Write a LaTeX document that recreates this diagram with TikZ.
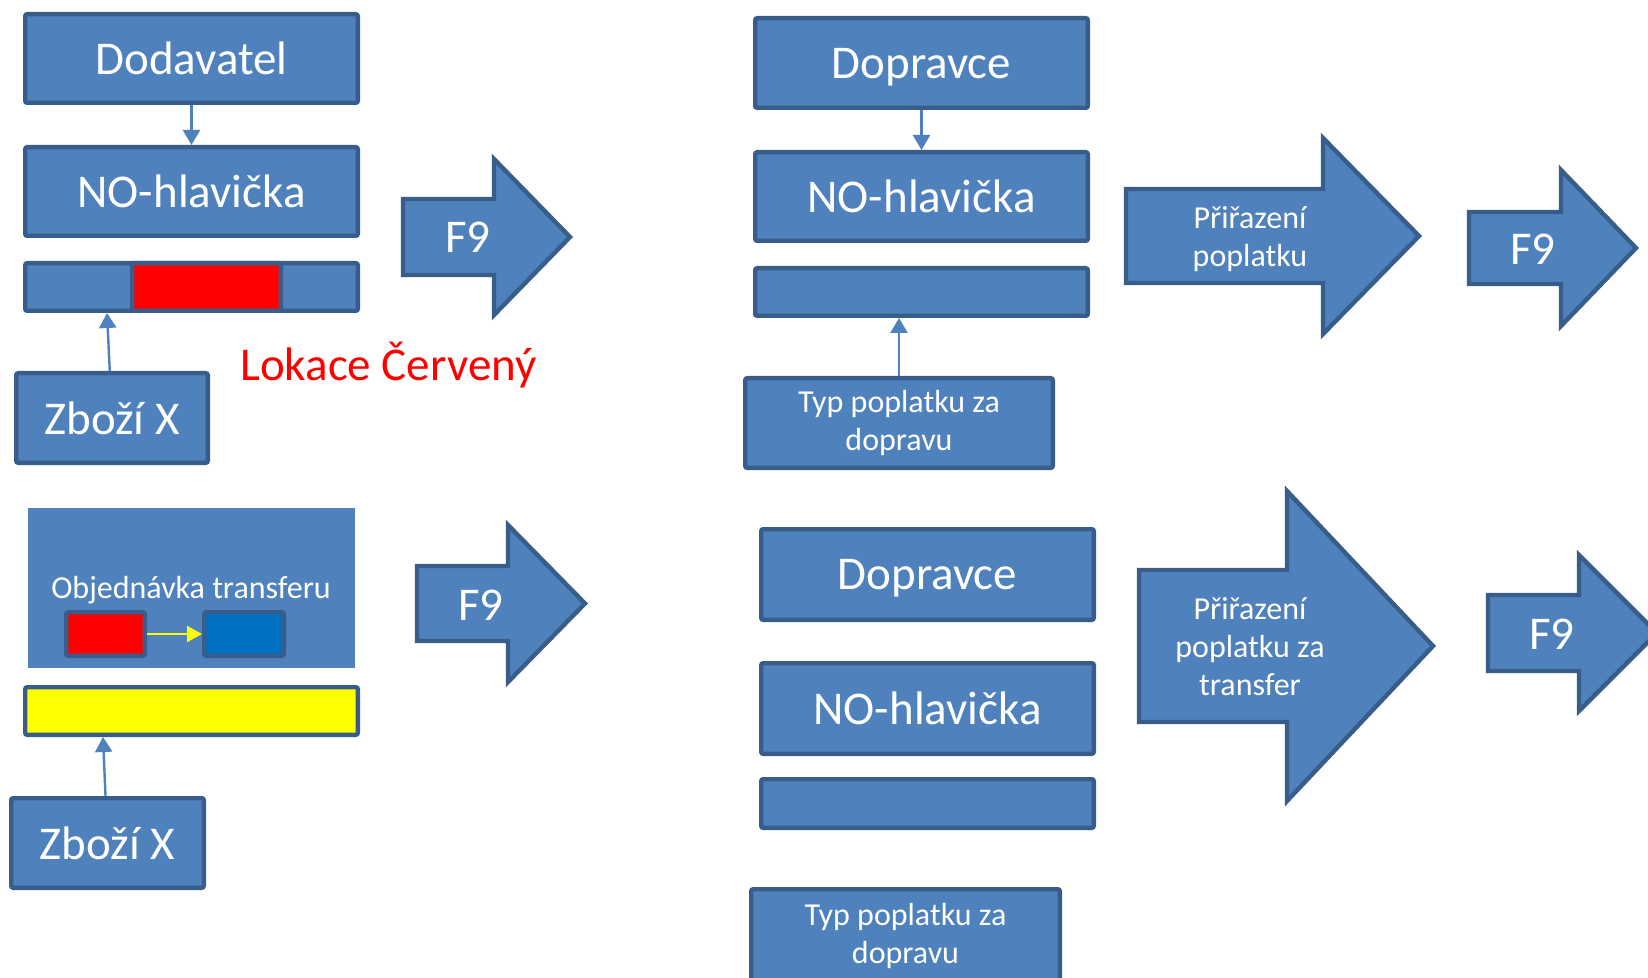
\documentclass[tikz,border=0pt]{standalone}
\usepackage{fontspec}
\setmainfont{Carlito}
\usetikzlibrary{arrows.meta}
\definecolor{boxfill}{HTML}{4F81BD}
\definecolor{boxline}{HTML}{385D8A}
\definecolor{lokred}{HTML}{FF0000}
\definecolor{darkblue}{HTML}{0070C0}
\definecolor{ylw}{HTML}{FFFF00}

\begin{document}
\begin{tikzpicture}[x=0.5pt,y=-0.5pt,
    every node/.style={inner sep=0pt},
    box/.style={rectangle, draw=boxline, fill=boxfill, line width=2.2pt, rounded corners=1pt, text=white, font=\fontsize{23.5}{28}\selectfont},
    twoline/.style={box, align=center, font=\fontsize{16}{19}\selectfont},
    bigarrow/.style={draw=boxline, fill=boxfill, line width=2.2pt},
    arrowtext/.style={text=white, align=center, font=\fontsize{16}{19}\selectfont},
    conn/.style={draw=boxfill, line width=1.2pt, -{Triangle[length=7.5pt,width=8.5pt]}}]
    \useasboundingbox (0,0) rectangle (1648,978);
    \clip (0,0) rectangle (1648,978);

    % dodavatel
    \node[box, minimum width=166.3pt, minimum height=44.3pt] (dod) at (191.5,58.5) {Dodavatel};
    \node[box, minimum width=166.3pt, minimum height=44.3pt] (noh1) at (191.5,191.5) {NO-hlavička};
    \node[box, minimum width=166.3pt, minimum height=23.8pt] (bar1) at (191.5,287) {};
    \node[box, fill=lokred, minimum width=74.3pt, minimum height=23.8pt] (loc1) at (206.5,287) {};
    \node[box, minimum width=95.8pt, minimum height=44.8pt] (zb1) at (112,418) {Zboží X};
    \node[text=lokred, anchor=base west, font=\fontsize{23.5}{28}\selectfont] (lok) at (240,380) {Lokace Červený};
    \draw[conn] (dod) -- (noh1);
    \draw[conn] (zb1) -- ([xshift=42pt]bar1.south west);

    % transfer
    \node[fill=boxfill, minimum width=163.5pt, minimum height=80pt] (obj) at (191.5,588) {};
    \node[anchor=base, text=white, font=\fontsize{16}{19}\selectfont] (objtxt) at (191,598) {Objednávka transferu};
    \node[box, fill=lokred, minimum width=39.3pt, minimum height=21.8pt] (ored) at (105.5,634) {};
    \node[box, fill=darkblue, minimum width=39.8pt, minimum height=21.8pt] (oblue) at (244,634) {};
    \draw[draw=ylw, line width=1pt, -{Triangle[length=7.5pt,width=8pt]}] (ored) -- (oblue);
    \node[box, fill=ylw, minimum width=166.3pt, minimum height=23.8pt] (ybar) at (191.5,711) {};
    \node[box, minimum width=96.3pt, minimum height=44.8pt] (zb2) at (107.5,843) {Zboží X};
    \draw[conn] (zb2) -- ([xshift=40pt]ybar.south west);

    % F9 left
    \draw[bigarrow] (403,199) -- (494,199) -- (494,159) -- (570,237) -- (494,315) -- (494,275) -- (403,275) -- cycle;
    \node[arrowtext, font=\fontsize{23.5}{28}\selectfont] (f9a) at (468,237) {F9};
    \draw[bigarrow] (417,566) -- (508,566) -- (508,525) -- (585,603.5) -- (508,682) -- (508,641) -- (417,641) -- cycle;
    \node[arrowtext, font=\fontsize{23.5}{28}\selectfont] (f9b) at (481,605) {F9};

    % dopravce
    \node[box, text depth=0pt, minimum width=166.3pt, minimum height=44.8pt] (dop1) at (921.5,63) {Dopravce};
    \node[box, minimum width=166.3pt, minimum height=44.3pt] (noh2) at (921.5,196.5) {NO-hlavička};
    \node[box, minimum width=166.3pt, minimum height=23.8pt] (bar2) at (921.5,292) {};
    \node[twoline, minimum width=153.8pt, minimum height=44.8pt] (typ1) at (899,423) {Typ poplatku za\\dopravu};
    \draw[conn] (dop1) -- (noh2);
    \draw[conn] (typ1) -- (typ1 |- bar2.south);

    \node[box, text depth=0pt, minimum width=166.3pt, minimum height=45.3pt] (dop2) at (927.5,574.5) {Dopravce};
    \node[box, minimum width=166.3pt, minimum height=45.3pt] (noh3) at (927.5,708.5) {NO-hlavička};
    \node[box, minimum width=166.3pt, minimum height=24.3pt] (bar3) at (927.5,803.5) {};
    \node[twoline, minimum width=154.3pt, minimum height=46.3pt] (typ2) at (905.5,935.5) {Typ poplatku za\\dopravu};

    % poplatky
    \draw[bigarrow] (1126,189) -- (1323,189) -- (1323,138) -- (1419,236) -- (1323,334) -- (1323,283) -- (1126,283) -- cycle;
    \node[arrowtext] (prir1) at (1250,239.5) {Přiřazení\\poplatku};
    \draw[bigarrow] (1469,212) -- (1561,212) -- (1561,170) -- (1636,248) -- (1561,326) -- (1561,284) -- (1469,284) -- cycle;
    \node[arrowtext, font=\fontsize{23.5}{28}\selectfont] (f9c) at (1533,249) {F9};

    \draw[bigarrow] (1139,570) -- (1287,570) -- (1287,491) -- (1433,646) -- (1287,801) -- (1287,722) -- (1139,722) -- cycle;
    \node[arrowtext] (prir2) at (1250,647) {Přiřazení\\poplatku za\\transfer};
    \draw[bigarrow] (1488,595) -- (1579,595) -- (1579,555) -- (1657,633) -- (1579,711) -- (1579,671) -- (1488,671) -- cycle;
    \node[arrowtext, font=\fontsize{23.5}{28}\selectfont] (f9d) at (1552,634) {F9};
\end{tikzpicture}
\end{document}
